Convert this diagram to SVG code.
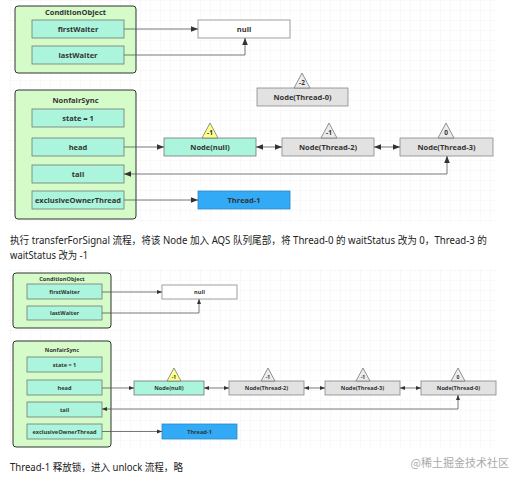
<svg xmlns="http://www.w3.org/2000/svg" width="527" height="482" viewBox="0 0 527 482">
<defs>
<pattern id="grid" width="10" height="10" patternUnits="userSpaceOnUse">
<path d="M10 0 L0 0 0 10" fill="none" stroke="#ececec" stroke-width="0.7"/>
</pattern>
<marker id="ah" viewBox="0 0 10 10" refX="10" refY="5" markerWidth="7" markerHeight="7" orient="auto-start-reverse" markerUnits="userSpaceOnUse">
<path d="M0 1 L10 5 L0 9 Z" fill="#333"/>
</marker>
<marker id="ahs" viewBox="0 0 10 10" refX="10" refY="5" markerWidth="5" markerHeight="5" orient="auto-start-reverse" markerUnits="userSpaceOnUse">
<path d="M0 1 L10 5 L0 9 Z" fill="#333"/>
</marker>
</defs>
<style>
.cont{fill:#d4fbc8;stroke:#333;stroke-width:1}
.fld{fill:#aaf5dc;stroke:#777;stroke-width:0.8}
.gry{fill:#e2e2e2;stroke:#888;stroke-width:0.8}
.wht{fill:#fff;stroke:#888;stroke-width:0.8}
.blu{fill:#33aaf5;stroke:#2a88c8;stroke-width:0.8}
.ty{fill:#ffff8c;stroke:#777;stroke-width:0.8}
.tg{fill:#ececec;stroke:#777;stroke-width:0.8}
.t{font-family:"Open Sans","Noto Sans",sans-serif;font-weight:bold;fill:#333;text-anchor:middle;dominant-baseline:central}
.t1{font-size:7.5px}
.t2{font-size:5.6px}
.ln{fill:none;stroke:#555;stroke-width:0.8}
.p{font-family:"Noto Sans","Noto Sans CJK SC",sans-serif;font-size:10px;fill:#222}
</style>
<rect width="527" height="482" fill="#fff"/>
<rect x="8" y="0" width="490" height="222" fill="url(#grid)"/>
<rect x="8" y="268" width="490" height="182" fill="url(#grid)"/>

<!-- Top diagram -->
<g id="top-condition">
<rect class="cont" x="15" y="6" width="121" height="67" rx="3"/>
<text class="t t1" x="75.5" y="12">ConditionObject</text>
</g>
<g id="top-firstWaiter"><rect class="fld" x="32" y="20" width="92" height="18"/><text class="t t1" x="78" y="29">firstWaiter</text></g>
<g id="top-lastWaiter"><rect class="fld" x="32" y="46" width="92" height="18"/><text class="t t1" x="78" y="55">lastWaiter</text></g>
<g id="top-null"><rect class="wht" x="198" y="20" width="92" height="18"/><text class="t t1" x="244" y="29">null</text></g>

<g id="top-nonfair">
<rect class="cont" x="15" y="90" width="121" height="129" rx="3"/>
<text class="t t1" x="75.5" y="100">NonfairSync</text>
</g>
<g id="top-state"><rect class="fld" x="32" y="109" width="92" height="18"/><text class="t t1" x="78" y="118">state = 1</text></g>
<g id="top-head"><rect class="fld" x="32" y="138" width="92" height="18"/><text class="t t1" x="78" y="147">head</text></g>
<g id="top-tail"><rect class="fld" x="32" y="165" width="92" height="18"/><text class="t t1" x="78" y="174">tail</text></g>
<g id="top-eot"><rect class="fld" x="32" y="191" width="92" height="18"/><text class="t t1" x="78" y="200">exclusiveOwnerThread</text></g>

<g id="top-nodenull">
<rect class="fld" x="164" y="138" width="92" height="18"/><text class="t t1" x="210" y="147">Node(null)</text>
<path class="ty" d="M210 123 L202 138 L218 138 Z"/><text class="t" font-size="6.5" x="210" y="132.5">-1</text>
</g>
<g id="top-thread0">
<rect class="gry" x="257" y="88" width="91" height="18"/><text class="t t1" x="302.5" y="97">Node(Thread-0)</text>
<path class="tg" d="M302 73 L294 88 L310 88 Z"/><text class="t" font-size="6.5" x="302" y="82.5">-2</text>
</g>
<g id="top-thread2">
<rect class="gry" x="282" y="138" width="92" height="18"/><text class="t t1" x="328" y="147">Node(Thread-2)</text>
<path class="tg" d="M329 123 L321 138 L337 138 Z"/><text class="t" font-size="6.5" x="329" y="132.5">-1</text>
</g>
<g id="top-thread3">
<rect class="gry" x="400" y="138" width="93" height="18"/><text class="t t1" x="446.5" y="147">Node(Thread-3)</text>
<path class="tg" d="M446 123 L438 138 L454 138 Z"/><text class="t" font-size="6.5" x="446" y="132.5">0</text>
</g>
<g id="top-thread1"><rect class="blu" x="198" y="191" width="92" height="18"/><text class="t t1" x="244" y="200">Thread-1</text></g>

<!-- Bottom diagram -->
<g id="bot-condition">
<rect class="cont" x="13" y="273" width="98" height="55" rx="3"/>
<text class="t t2" x="62" y="278.5">ConditionObject</text>
</g>
<g id="bot-firstWaiter"><rect class="fld" x="27" y="284" width="75" height="15"/><text class="t t2" x="64.5" y="291.5">firstWaiter</text></g>
<g id="bot-lastWaiter"><rect class="fld" x="27" y="306" width="75" height="14"/><text class="t t2" x="64.5" y="313">lastWaiter</text></g>
<g id="bot-null"><rect class="wht" x="162" y="285" width="75" height="14"/><text class="t t2" x="199.5" y="292">null</text></g>

<g id="bot-nonfair">
<rect class="cont" x="13" y="341" width="98" height="106" rx="3"/>
<text class="t t2" x="62" y="350">NonfairSync</text>
</g>
<g id="bot-state"><rect class="fld" x="27" y="357" width="75" height="15"/><text class="t t2" x="64.5" y="364.5">state = 1</text></g>
<g id="bot-head"><rect class="fld" x="27" y="380" width="75" height="15"/><text class="t t2" x="64.5" y="387.5">head</text></g>
<g id="bot-tail"><rect class="fld" x="27" y="402" width="75" height="15"/><text class="t t2" x="64.5" y="409.5">tail</text></g>
<g id="bot-eot"><rect class="fld" x="27" y="424" width="75" height="15"/><text class="t t2" x="64.5" y="431.5">exclusiveOwnerThread</text></g>

<g id="bot-nodenull">
<rect class="fld" x="134" y="381" width="70" height="14"/><text class="t t2" x="169" y="388">Node(null)</text>
<path class="ty" d="M174 368 L167 381 L181 381 Z"/><text class="t" font-size="5" x="174" y="376.5">-1</text>
</g>
<g id="bot-thread2">
<rect class="gry" x="229" y="381" width="75" height="14"/><text class="t t2" x="266.5" y="388">Node(Thread-2)</text>
<path class="tg" d="M268 368 L261 381 L275 381 Z"/><text class="t" font-size="5" x="268" y="376.5">-1</text>
</g>
<g id="bot-thread3">
<rect class="gry" x="325" y="381" width="75" height="14"/><text class="t t2" x="362.5" y="388">Node(Thread-3)</text>
<path class="tg" d="M363 368 L356 381 L370 381 Z"/><text class="t" font-size="5" x="363" y="376.5">-1</text>
</g>
<g id="bot-thread0">
<rect class="gry" x="421" y="381" width="75" height="14"/><text class="t t2" x="458.5" y="388">Node(Thread-0)</text>
<path class="tg" d="M458 368 L451 381 L465 381 Z"/><text class="t" font-size="5" x="458" y="376.5">0</text>
</g>
<g id="bot-thread1"><rect class="blu" x="162" y="424" width="75" height="15"/><text class="t t2" x="199.5" y="431.5">Thread-1</text></g>

<g id="connectors">
<path class="ln" d="M124 29 L198 29" marker-end="url(#ah)"/>
<path class="ln" d="M124 55 L245 55 L245 38" marker-end="url(#ah)"/>
<path class="ln" d="M124 147 L164 147" marker-end="url(#ah)"/>
<path class="ln" d="M256 147 L282 147" marker-start="url(#ah)" marker-end="url(#ah)"/>
<path class="ln" d="M374 147 L400 147" marker-start="url(#ah)" marker-end="url(#ah)"/>
<path class="ln" d="M124 174 L447 174 L447 156" marker-start="url(#ah)" marker-end="url(#ah)"/>
<path class="ln" d="M124 200 L198 200" marker-end="url(#ah)"/>

<path class="ln" d="M102 292 L162 292" marker-end="url(#ahs)"/>
<path class="ln" d="M102 313 L199 313 L199 299" marker-end="url(#ahs)"/>
<path class="ln" d="M102 388 L134 388" marker-end="url(#ahs)"/>
<path class="ln" d="M204 388 L229 388" marker-start="url(#ahs)" marker-end="url(#ahs)"/>
<path class="ln" d="M304 388 L325 388" marker-start="url(#ahs)" marker-end="url(#ahs)"/>
<path class="ln" d="M400 388 L421 388" marker-start="url(#ahs)" marker-end="url(#ahs)"/>
<path class="ln" d="M102 409 L458 409 L458 395" marker-start="url(#ahs)" marker-end="url(#ahs)"/>
<path class="ln" d="M102 431.5 L162 431.5" marker-end="url(#ahs)"/>
</g>

<text class="p" x="10" y="243.5" textLength="477" lengthAdjust="spacingAndGlyphs">执行 transferForSignal 流程，将该 Node 加入 AQS 队列尾部，将 Thread-0 的 waitStatus 改为 0，Thread-3 的</text>
<text class="p" x="10" y="258.5" textLength="78" lengthAdjust="spacingAndGlyphs">waitStatus 改为 -1</text>
<text class="p" x="10" y="471" textLength="173" lengthAdjust="spacingAndGlyphs">Thread-1 释放锁，进入 unlock 流程，略</text>
<text font-family="Noto Sans CJK SC, sans-serif" font-size="11" fill="#aaa" x="509" y="467" text-anchor="end">@稀土掘金技术社区</text>
</svg>
